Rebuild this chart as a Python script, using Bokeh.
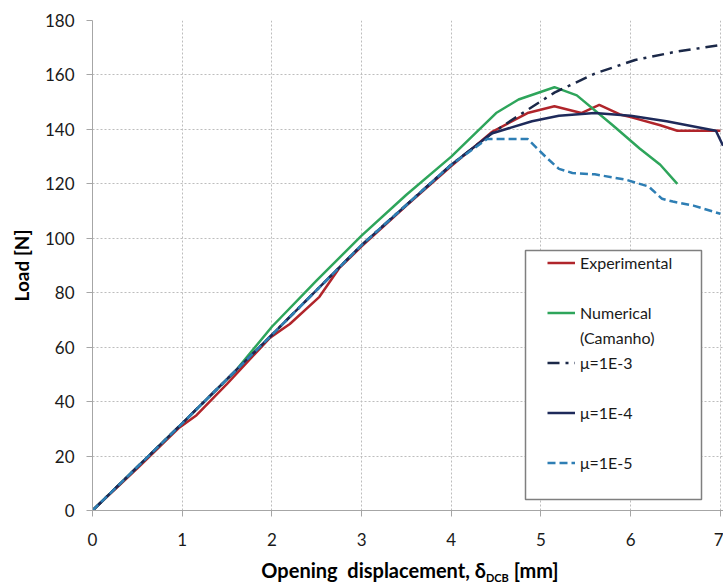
from bokeh.plotting import figure
from bokeh.models import Range1d, Legend, LegendItem, BoxAnnotation, FixedTicker, Div
from bokeh.layouts import column
from bokeh.embed import file_html
from bokeh.resources import INLINE

# ---------------- data ----------------
x_ticks = [0, 1, 2, 3, 4, 5, 6, 7]
y_ticks = [0, 20, 40, 60, 80, 100, 120, 140, 160, 180]

exp_x = [0, 0.5, 0.97, 1.16, 1.5, 1.98, 2.2, 2.53, 2.75, 3.0, 3.5, 4.0, 4.45,
         4.85, 5.15, 5.45, 5.65, 5.88, 6.0, 6.33, 6.52, 7.0]
exp_y = [0, 15.5, 30.5, 35, 46.5, 63.5, 68.5, 78.5, 89, 97, 112, 126.5, 139,
         146, 148.5, 146, 149, 145.5, 144.5, 141.5, 139.5, 139.5]

num_x = [0, 1.0, 1.6, 2.0, 2.5, 3.0, 3.5, 4.0, 4.5, 4.75, 5.15, 5.4, 5.8, 6.1, 6.33, 6.52]
num_y = [0, 32, 51.5, 67.5, 84.5, 101, 116, 130, 146, 151, 155.5, 152.5, 141.5, 133, 127, 120]

mu3_x = [0, 1, 2, 3, 4, 4.45, 4.7, 5.15, 5.6, 6.05, 6.5, 7.0]
mu3_y = [0, 32, 64.5, 97.5, 127, 138.5, 144, 153.5, 160.5, 165.5, 168.5, 171]

mu4_x = [0, 1, 2, 3, 4, 4.45, 4.9, 5.2, 5.6, 6.0, 6.4, 6.95, 7.03]
mu4_y = [0, 32, 64.5, 97.5, 127, 138.5, 143, 145, 146, 145, 143, 139.5, 134]

mu5_x = [0, 1, 2, 3, 4, 4.4, 4.85, 5.05, 5.2, 5.35, 5.6, 5.95, 6.2, 6.35, 6.47, 6.7, 7.0]
mu5_y = [0, 32, 64.5, 97.5, 127, 136.5, 136.5, 130, 125.5, 124, 123.5, 121.5, 119, 114.5, 113.5, 112, 109]

labels = ["Experimental", "Numerical", "(Camanho)", "\u03bc=1E-3", "\u03bc=1E-4", "\u03bc=1E-5"]
y_title = "Load [N]"
x_title_main = "Opening&nbsp; displacement, \u03b4"
x_title_sub = "DCB"
x_title_unit = "[mm]"

# ---------------- styling ----------------
FONT = "Lato"
C_EXP = "#B0252B"
C_NUM = "#2EA55B"
C_MU3 = "#1B2848"
C_MU4 = "#1E2A5A"
C_MU5 = "#2E7EB4"
GRID = "#BDBDBD"
AXIS = "#A6A6A6"

p = figure(width=723, height=556, output_backend="svg", toolbar_location=None,
           x_range=Range1d(0, 7.035), y_range=Range1d(0, 180),
           min_border_left=92, min_border_right=0, min_border_top=20, min_border_bottom=46)
p.outline_line_color = None
p.background_fill_color = "white"
p.border_fill_color = "white"

p.xaxis.ticker = FixedTicker(ticks=x_ticks)
p.yaxis.ticker = FixedTicker(ticks=y_ticks)
for ax in (p.xaxis, p.yaxis):
    ax.axis_line_color = AXIS
    ax.axis_line_width = 1
    ax.major_tick_line_color = AXIS
    ax.major_tick_out = 6
    ax.major_tick_in = 0
    ax.minor_tick_line_color = None
    ax.major_label_text_font = FONT
    ax.major_label_text_font_size = "17px"
    ax.major_label_text_color = "#1a1a1a"
p.xaxis.major_label_standoff = 16
p.yaxis.major_label_standoff = 12
p.yaxis.axis_label = y_title
p.yaxis.axis_label_text_font = FONT
p.yaxis.axis_label_text_font_style = "bold"
p.yaxis.axis_label_text_font_size = "19px"
p.yaxis.axis_label_text_color = "black"
p.yaxis.axis_label_standoff = 9

for g in (p.xgrid, p.ygrid):
    g.grid_line_color = GRID
    g.grid_line_dash = "2 2"
    g.grid_line_width = 1

r_exp = p.line(exp_x, exp_y, line_color=C_EXP, line_width=2.5)
r_num = p.line(num_x, num_y, line_color=C_NUM, line_width=2.5)
r_mu3 = p.line(mu3_x, mu3_y, line_color=C_MU3, line_width=2.5, line_dash="12 6 3 6")
r_mu4 = p.line(mu4_x, mu4_y, line_color=C_MU4, line_width=2.5)
r_mu5 = p.line(mu5_x, mu5_y, line_color=C_MU5, line_width=2.5, line_dash="8 4")
r_blank = p.line([], [], line_alpha=0)

# legend frame
box = BoxAnnotation(left=433, right=609, top=260, bottom=11,
                    left_units="screen", right_units="screen",
                    top_units="screen", bottom_units="screen",
                    fill_color="white", fill_alpha=1.0,
                    line_color="#7F7F7F", line_width=1.5, line_alpha=1.0)
p.add_layout(box)

items = [
    LegendItem(label=labels[0], renderers=[r_exp]),
    LegendItem(label=" ", renderers=[r_blank]),
    LegendItem(label=labels[1], renderers=[r_num]),
    LegendItem(label=labels[2], renderers=[r_blank]),
    LegendItem(label=labels[3], renderers=[r_mu3]),
    LegendItem(label=" ", renderers=[r_blank]),
    LegendItem(label=labels[4], renderers=[r_mu4]),
    LegendItem(label=" ", renderers=[r_blank]),
    LegendItem(label=labels[5], renderers=[r_mu5]),
]
legend = Legend(items=items, location=(455, 37), padding=0, margin=0, spacing=4,
                glyph_width=28, glyph_height=21, label_height=21, label_standoff=5,
                label_text_font=FONT, label_text_font_size="16px", label_text_color="#1a1a1a",
                background_fill_alpha=0, border_line_alpha=0)
p.add_layout(legend)

# x-axis title with a real subscript
title_html = (
    '<div style="width:626px;margin-left:97px;padding-top:3px;text-align:center;white-space:nowrap;'
    'font-family:Lato;font-weight:bold;font-size:20px;line-height:22px;color:black;">'
    + x_title_main
    + '<span style="font-size:11px;line-height:11px;position:relative;top:4px;">'
    + x_title_sub + '</span> '
    + x_title_unit + '</div>'
)
xtitle = Div(text=title_html, width=723, height=28, margin=0)

layout = column(p, xtitle, spacing=0, margin=0)

open("out.html", "w").write(file_html(layout, INLINE))
